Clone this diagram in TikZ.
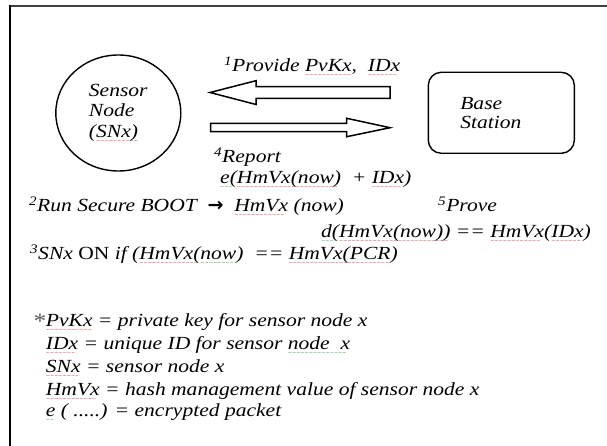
\documentclass[tikz,border=0pt]{standalone}
\usepackage{fontspec}
\setmainfont{Liberation Serif}[FakeStretch=1.165]
\newfontfamily\arrowfont{DejaVu Sans}
\usetikzlibrary{shapes.geometric}
\definecolor{sqred}{RGB}{225,45,45}
\definecolor{sqgreen}{RGB}{50,160,50}
\newsavebox\sqbox
\newcommand\sqline[2]{\sbox\sqbox{#2}\rlap{\color{#1}\lower5pt\hbox to \wd\sqbox{\leaders\hbox{\fontsize{5}{5}\selectfont\arrowfont ∼}\hfill}}\usebox\sqbox}
\newcommand\rsq[1]{\sqline{sqred}{#1}}
\newcommand\gsq[1]{\sqline{sqgreen}{#1}}
\tikzset{
  txt/.style={anchor=base west, inner sep=0pt, font=\fontsize{18.5}{20}\selectfont\itshape},
  blockarrow/.style={draw=black, fill=white, line width=1.5pt, line join=miter},
  frameline/.style={line width=2pt},
}
\begin{document}
\begin{tikzpicture}[x=1pt,y=-1pt]
\useasboundingbox (0,0) rectangle (607,446);
% frame
\draw[frameline, draw=black!75] (9,6) -- (607,6);
\draw[frameline, line width=2.5pt] (10,5) -- (10,446);
% sensor node
\node[ellipse, draw, line width=1.4pt, minimum width=125pt, minimum height=116pt, inner sep=0pt,
      align=left, font=\fontsize{18.5}{20.5}\selectfont\itshape] (sn) at (118.3,113)
      {Sensor\\Node\\(\rsq{SNx)}};
% base station
\node[draw, line width=1.4pt, rounded corners=13pt, minimum width=146pt, minimum height=81pt,
      inner xsep=32pt, text width=82pt, align=left, font=\fontsize{18.5}{19.5}\selectfont\itshape] (bs) at (501.3,112.8)
      {Base\\Station};
% block arrows
\draw[blockarrow] (390,86.7) -- (256,86.7) -- (256,80.7) -- (210,92.5) -- (256,104.5) -- (256,98.3) -- (390,98.3) -- cycle;
\draw[blockarrow] (210.7,123.3) -- (346.7,123.3) -- (346.7,118.3) -- (390,127.7) -- (346.7,136.7) -- (346.7,131.7) -- (210.7,131.7) -- cycle;
% labels
\node[txt] (prov) at (224,71.7) {\textsuperscript{1}Provide \rsq{PvKx}, \ \rsq{IDx}};
\node[txt] (rep) at (214,162.7) {\textsuperscript{4}Report};
\node[txt] (enc) at (220,184) {\gsq{e(}\rsq{HmVx(now)} \ + \rsq{IDx})};
\node[txt] (run) at (29,212) {\textsuperscript{2}Run Secure BOOT \ {\upshape\arrowfont\bfseries\fontsize{19}{19}\selectfont →} \ \rsq{HmVx} (now)};
\node[txt] (prv) at (438,212) {\textsuperscript{5}Prove};
\node[txt] (dec) at (321,237) {\gsq{d(}\rsq{HmVx(now))} == \rsq{HmVx}(\rsq{IDx})};
\node[txt] (son) at (30,259.5) {\textsuperscript{3}SNx {\upshape ON} \textit{if} (\rsq{HmVx(}\gsq{now}) \ == \rsq{HmVx(PCR})};
% legend
\node[txt, font=\fontsize{22}{20}\selectfont\upshape, text=black!65] (star) at (33.5,328) {*};
\node[txt] (l1) at (45.7,326.7) {\rsq{PvKx} = private key for sensor node x};
\node[txt] (l2) at (45.7,349.5) {\rsq{IDx} = unique ID for sensor \gsq{node\ \ x}};
\node[txt] (l3) at (45.7,372.7) {\rsq{SNx} = sensor node x};
\node[txt] (l4) at (45.7,395) {\rsq{HmVx} = hash management value of sensor node x};
\node[txt] (l5) at (45.7,416) {\gsq{e} ( .....) = encrypted packet};
\end{tikzpicture}
\end{document}
